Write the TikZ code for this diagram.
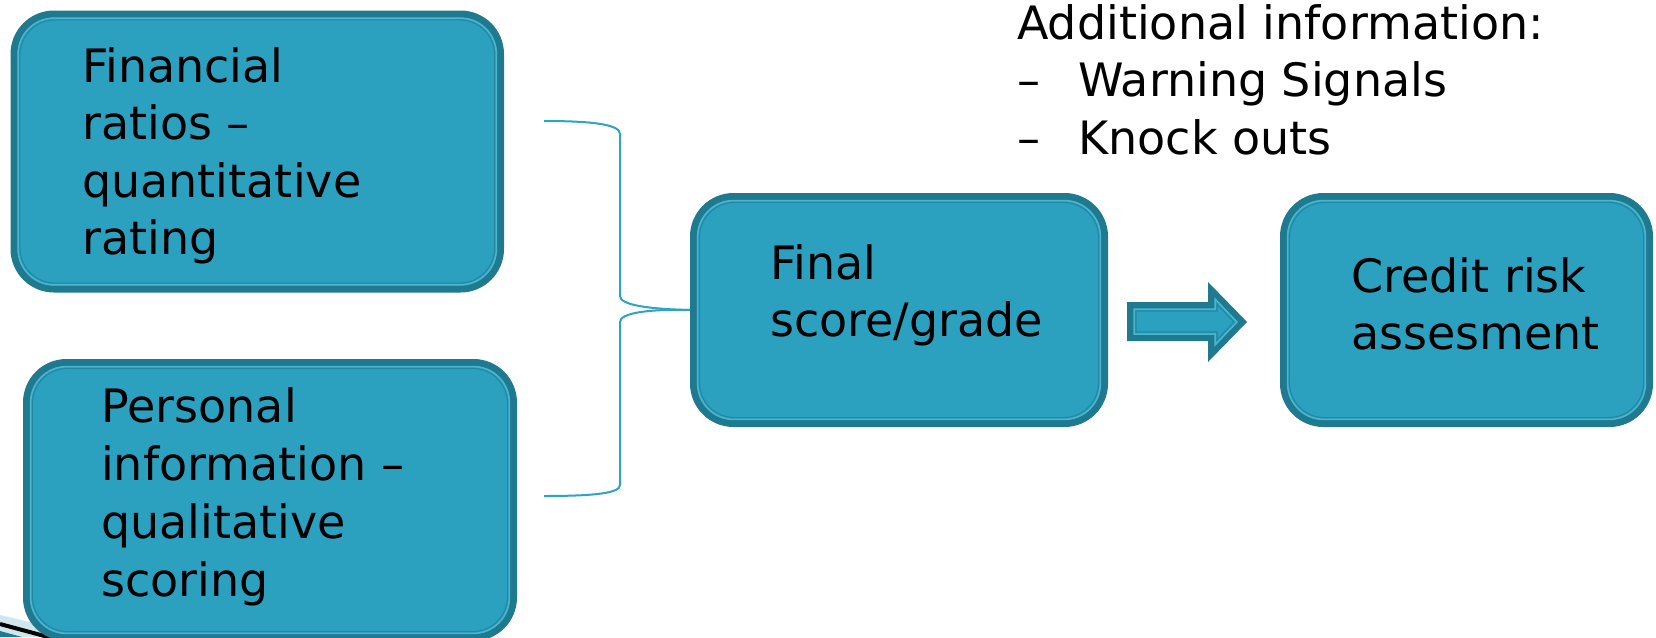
\documentclass[tikz,border=0pt]{standalone}
\usepackage{fontspec}
\setmainfont{DejaVu Sans}

\definecolor{boxfill}{HTML}{2CA1BF}
\definecolor{boxedge}{HTML}{1F7A8F}
\definecolor{boxglint}{HTML}{48B6D0}
\definecolor{boxinner}{HTML}{2387A1}
\definecolor{bracecol}{HTML}{2FA3C1}
\definecolor{curllight}{HTML}{CFE6EE}

\tikzset{
  card/.style={draw=boxedge, fill=boxfill, line width=7pt,
               rounded corners=40pt, inner sep=0pt},
  glint/.style={draw=boxglint, line width=1.5pt, rounded corners=36pt},
  innerline/.style={draw=boxinner, line width=1.1pt, rounded corners=35pt},
  % multi-line texts are placed by the baseline of their last line
  txt/.style={font=\fontsize{46}{57.5}\selectfont, align=left,
              inner sep=0pt, anchor=base west, text=black},
  brace/.style={draw=bracecol, line width=2pt},
}

% thin double rim drawn just inside a card's dark border
\newcommand{\cardrim}[1]{%
  \draw[glint] ([xshift=7.6pt,yshift=-7.6pt]#1.north west)
     rectangle ([xshift=-7.6pt,yshift=7.6pt]#1.south east);
  \draw[innerline] ([xshift=9.4pt,yshift=-9.4pt]#1.north west)
     rectangle ([xshift=-9.4pt,yshift=9.4pt]#1.south east);
}

\begin{document}
\begin{tikzpicture}[x=1pt,y=-1pt]
\useasboundingbox (0,0) rectangle (1656,637);
\fill[white] (0,0) rectangle (1656,637);

% page-curl corner at the lower left
\fill[curllight] (0,615) -- (92,637) -- (0,637) -- cycle;
\draw[black, line width=4pt] (0,624) -- (52,638);
\fill[boxedge] (0,631) -- (22,637) -- (0,637) -- cycle;

% cards
\node[card, minimum width=486.5pt, minimum height=275pt] (fin) at (257.25,151.5) {};
\cardrim{fin}
\node[card, minimum width=487pt, minimum height=275pt] (pers) at (270,500) {};
\cardrim{pers}
\node[card, minimum width=411pt, minimum height=227pt] (score) at (899,310) {};
\cardrim{score}
\node[card, minimum width=366pt, minimum height=227pt] (risk) at (1466.5,310) {};
\cardrim{risk}

% card texts
\node[txt] (finT) at (82,254.5) {Financial\\ratios –\\quantitative\\rating};
\node[txt, font=\fontsize{46}{58}\selectfont] (persT) at (101,596) {Personal\\information –\\qualitative\\scoring};
\node[txt] (scoreT) at (770,336.5) {Final\\score/grade};
\node[txt] (riskT) at (1351,349.5) {Credit risk\\assesment};

% extra information list
\node[txt] (info) at (1017,154) {Additional information:\\
  \makebox[61pt][l]{–}Warning Signals\\
  \makebox[61pt][l]{–}Knock outs};

% brace joining the two inputs into the score card
\coordinate (bt) at (544,121);
\coordinate (bb) at (544,496);
\draw[brace] (bt) .. controls (596,121) and (620,125) .. (620,134)
  -- (620,296) .. controls (620,305) and (648,309) .. (score.west);
\draw[brace] (score.west) .. controls (648,309) and (620,313) .. (620,322)
  -- (620,485) .. controls (620,493) and (596,496) .. (bb);

% block arrow towards the assessment card
\fill[boxedge] (1127,302) -- (1208,302) -- (1208,282) -- (1247,322)
  -- (1208,362) -- (1208,341) -- (1127,341) -- cycle;
\filldraw[fill=boxfill, draw=boxglint, line width=1.5pt]
  (1134,309) -- (1215,309) -- (1215,299) -- (1237,322)
  -- (1215,345) -- (1215,334) -- (1134,334) -- cycle;
\draw[boxinner, line width=1.1pt]
  (1136,311) -- (1217,311) -- (1217,304) -- (1234,322)
  -- (1217,340) -- (1217,332) -- (1136,332) -- cycle;
\end{tikzpicture}
\end{document}
